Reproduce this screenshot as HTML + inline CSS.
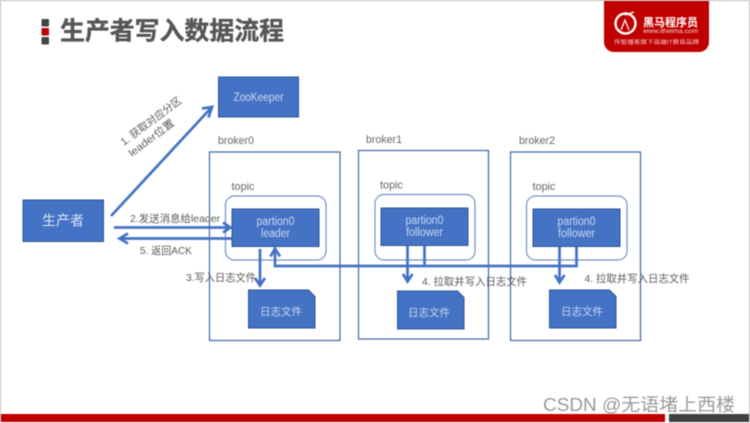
<!DOCTYPE html>
<html><head><meta charset="utf-8">
<style>
html,body{margin:0;padding:0;background:#fff;width:750px;height:423px;overflow:hidden}
svg{display:block;filter:blur(.45px)}
text{font-family:"Liberation Sans","Noto Sans CJK SC",sans-serif}
.w{fill:#ccd9f0;font-size:11.5px;text-anchor:middle}
.g{fill:#5a5a5a;font-size:10.5px}
.l{fill:#666;font-size:11px}
.b{fill:#4472c4;stroke:#2f5597;stroke-width:1}
.o{fill:#fff;stroke:#3f66ab;stroke-width:1.2}
.t{fill:none;stroke:#7590c4;stroke-width:1.2}
.a{fill:none;stroke:#4472c4;stroke-width:2.7}
</style></head><body>
<svg width="750" height="423" viewBox="0 0 750 423" xmlns="http://www.w3.org/2000/svg">
<rect width="750" height="423" fill="#fff"/>
<rect x="0" y="0" width="750" height="1" fill="#bdbdbd"/>
<rect x="0" y="0" width="1" height="423" fill="#bdbdbd"/>
<rect x="749" y="0" width="1" height="423" fill="#bdbdbd"/>

<!-- title -->
<rect x="41.5" y="19" width="7.5" height="7.5" rx="1" fill="#444"/>
<rect x="41.5" y="28" width="7.5" height="7.5" rx="1" fill="#c00000"/>
<rect x="41.5" y="37" width="7.5" height="7.5" rx="1" fill="#444"/>
<text x="60" y="39.5" font-size="25" font-weight="700" fill="#555" stroke="#555" stroke-width=".35" textLength="224" lengthAdjust="spacingAndGlyphs">生产者写入数据流程</text>

<!-- logo -->
<path d="M604 1H709V42a10 10 0 0 1-10 10H614a10 10 0 0 1-10-10Z" fill="#c00000"/>
<circle cx="625.500" cy="23.500" r="10" fill="none" stroke="#fff" stroke-width="2.4"/>
<path d="M621 30l4-10 4 10M625 15l9-3" fill="none" stroke="#fff" stroke-width="1.2"/>
<text x="643" y="26" font-size="11" font-weight="700" fill="#fff" textLength="55" lengthAdjust="spacingAndGlyphs">黑马程序员</text>
<text x="643" y="33" font-size="6.500" fill="#f6dada" textLength="55" lengthAdjust="spacingAndGlyphs">www.itheima.com</text>
<text x="614" y="44" font-size="5.500" fill="#f3c9c9" textLength="85" lengthAdjust="spacingAndGlyphs">传智播客旗下高端IT教育品牌</text>

<!-- brokers -->
<rect class="o" x="209.5" y="152" width="130.5" height="188.5"/>
<rect class="o" x="358.5" y="150.5" width="130" height="188.5"/>
<rect class="o" x="510.5" y="152" width="130" height="188.5"/>
<text class="l" x="218" y="144" textLength="36" lengthAdjust="spacingAndGlyphs">broker0</text>
<text class="l" x="366" y="143" textLength="36" lengthAdjust="spacingAndGlyphs">broker1</text>
<text class="l" x="519" y="144" textLength="36" lengthAdjust="spacingAndGlyphs">broker2</text>

<!-- topics -->
<rect class="t" x="225.5" y="196" width="100.5" height="64" rx="9"/>
<rect class="t" x="375" y="194.5" width="100" height="65.5" rx="9"/>
<rect class="t" x="526.5" y="196" width="100.5" height="64" rx="9"/>
<text class="l" x="231.5" y="190" textLength="23" lengthAdjust="spacingAndGlyphs">topic</text>
<text class="l" x="380" y="188.5" textLength="23" lengthAdjust="spacingAndGlyphs">topic</text>
<text class="l" x="532.5" y="190" textLength="23" lengthAdjust="spacingAndGlyphs">topic</text>

<!-- connectors behind boxes -->
<path class="a" d="M111 216L211 108"/>
<path class="a" d="M202 108.500L212 107L208.500 117.500"/>
<path class="a" d="M114 227.500H230"/>
<path class="a" d="M223 222.500L230.500 227.500L223 232.500"/>
<path class="a" d="M232 238.500H120"/>
<path class="a" d="M128 233.500L119.500 238.500L128 243.500"/>
<path class="a" d="M260 249V285"/>
<path class="a" d="M255 278L260 285.500L265 278"/>
<path class="a" d="M275 249V266H576.500V246"/>
<path class="a" d="M270.500 256.500L275 248.500L280 256.500"/>
<path class="a" d="M424.500 246V266"/>
<path class="a" d="M407.500 246V281"/>
<path class="a" d="M403 274L407.500 281.500L412.500 274"/>
<path class="a" d="M559.500 246V282"/>
<path class="a" d="M555 275L559.500 282.500L564.500 275"/>

<!-- boxes -->
<rect class="b" x="218.500" y="77" width="80" height="40"/>
<text class="w" x="258.500" y="101" textLength="50" lengthAdjust="spacingAndGlyphs">ZooKeeper</text>

<rect class="b" x="23" y="200" width="80.500" height="41.500"/>
<text x="63" y="225.500" font-size="14" fill="#dde6f5" text-anchor="middle">生产者</text>

<rect class="b" x="232" y="209" width="87" height="37.500"/>
<text class="w" x="275.500" y="225" textLength="38" lengthAdjust="spacingAndGlyphs">partion0</text>
<text class="w" x="275.500" y="237" textLength="29" lengthAdjust="spacingAndGlyphs">leader</text>
<rect class="b" x="381" y="208" width="87" height="37.500"/>
<text class="w" x="424.500" y="224" textLength="38" lengthAdjust="spacingAndGlyphs">partion0</text>
<text class="w" x="424.500" y="236" textLength="37" lengthAdjust="spacingAndGlyphs">follower</text>
<rect class="b" x="533" y="209" width="87" height="37.500"/>
<text class="w" x="576.500" y="225" textLength="38" lengthAdjust="spacingAndGlyphs">partion0</text>
<text class="w" x="576.500" y="237" textLength="37" lengthAdjust="spacingAndGlyphs">follower</text>

<path class="b" d="M248.500 290H308.500L315 296.500V328H248.500Z"/>
<text class="w" x="281" y="315" style="font-size:10.500px">日志文件</text>
<path class="b" d="M397.500 291H457.500L464 297.500V329H397.500Z"/>
<text class="w" x="429" y="316" style="font-size:10.500px">日志文件</text>
<path class="b" d="M549.500 290H609.500L616 296.500V328H549.500Z"/>
<text class="w" x="582" y="315" style="font-size:10.500px">日志文件</text>

<!-- labels -->
<g transform="rotate(-37 124 146)">
<text class="g" x="124" y="146" textLength="73" lengthAdjust="spacingAndGlyphs">1. 获取对应分区</text>
</g>
<g transform="rotate(-37 132 157)">
<text class="g" x="132" y="157" textLength="54" lengthAdjust="spacingAndGlyphs">leader位置</text>
</g>
<text class="g" x="130" y="222" textLength="90" lengthAdjust="spacingAndGlyphs">2.发送消息给leader</text>
<text class="g" x="140" y="254" textLength="52" lengthAdjust="spacingAndGlyphs">5. 返回ACK</text>
<text class="g" x="186" y="281" textLength="70" lengthAdjust="spacingAndGlyphs">3.写入日志文件</text>
<text class="g" x="422" y="285" textLength="105" lengthAdjust="spacingAndGlyphs">4. 拉取并写入日志文件</text>
<text class="g" x="584.500" y="282" textLength="105" lengthAdjust="spacingAndGlyphs">4. 拉取并写入日志文件</text>

<!-- footer -->
<rect x="1" y="414" width="664" height="8" fill="#c00000"/>
<rect x="669" y="414" width="80" height="8" fill="#404040"/>
<text x="543" y="411" font-size="18" fill="#999" textLength="192" lengthAdjust="spacingAndGlyphs">CSDN @无语堵上西楼</text>
</svg>
</body></html>
